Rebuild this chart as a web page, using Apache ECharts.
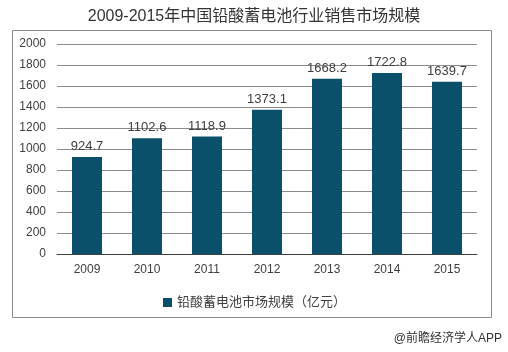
<!DOCTYPE html>
<html>
<head>
<meta charset="utf-8">
<script src="https://cdn.jsdelivr.net/npm/echarts@6/dist/echarts.min.js"></script>
<style>
  html, body { margin: 0; padding: 0; background: #fff; }
  #main { width: 508px; height: 352px; }
</style>
</head>
<body>
<div id="main"></div>
<script>
// 数据
var years = ['2009', '2010', '2011', '2012', '2013', '2014', '2015'];
var sales = [924.7, 1102.6, 1118.9, 1373.1, 1668.2, 1722.8, 1639.7];
var seriesName = '铅酸蓄电池市场规模（亿元）';
var fontFamily = '"Liberation Sans", Arial, "Noto Sans CJK SC", sans-serif';

var myChart = echarts.init(document.getElementById('main'));

var option = {
  backgroundColor: '#fff',
  textStyle: { fontFamily: fontFamily },
  title: {
    text: '2009-2015年中国铅酸蓄电池行业销售市场规模',
    left: 'center',
    top: 4,
    textStyle: { fontSize: 16, fontWeight: 'normal', color: '#333', fontFamily: fontFamily }
  },
  legend: {
    data: [seriesName],
    top: 291,
    left: 158,
    itemWidth: 9,
    itemHeight: 9,
    itemGap: 4,
    icon: 'rect',
    textStyle: { fontSize: 13, color: '#404040', fontFamily: fontFamily }
  },
  grid: { left: 57, right: 31, top: 44, bottom: 98 },
  xAxis: {
    type: 'category',
    data: years,
    axisTick: { show: false },
    axisLine: { lineStyle: { color: '#404040' } },
    axisLabel: { color: '#404040', fontSize: 12, margin: 10 }
  },
  yAxis: {
    type: 'value',
    min: 0,
    max: 2000,
    interval: 200,
    axisLine: { show: false },
    axisTick: { show: false },
    axisLabel: {
      color: '#404040', fontSize: 12, margin: 11,
      formatter: function (v) { return String(v); }
    },
    splitLine: { lineStyle: { color: '#8c8c8c' } }
  },
  series: [{
    name: seriesName,
    type: 'bar',
    data: sales,
    barWidth: 30,
    itemStyle: { color: '#0b506b' },
    label: { show: true, position: 'top', color: '#404040', fontSize: 13, distance: 4 }
  }],
  graphic: [
    {
      type: 'rect',
      shape: { x: 12.5, y: 30.5, width: 479, height: 287 },
      style: { fill: 'none', stroke: '#8a8a8a', lineWidth: 1 },
      silent: true
    },
    {
      type: 'text',
      right: 6,
      top: 333,
      style: { text: '@前瞻经济学人APP', fill: '#333', font: '12px ' + fontFamily }
    }
  ]
};

myChart.setOption(option);
</script>
</body>
</html>
